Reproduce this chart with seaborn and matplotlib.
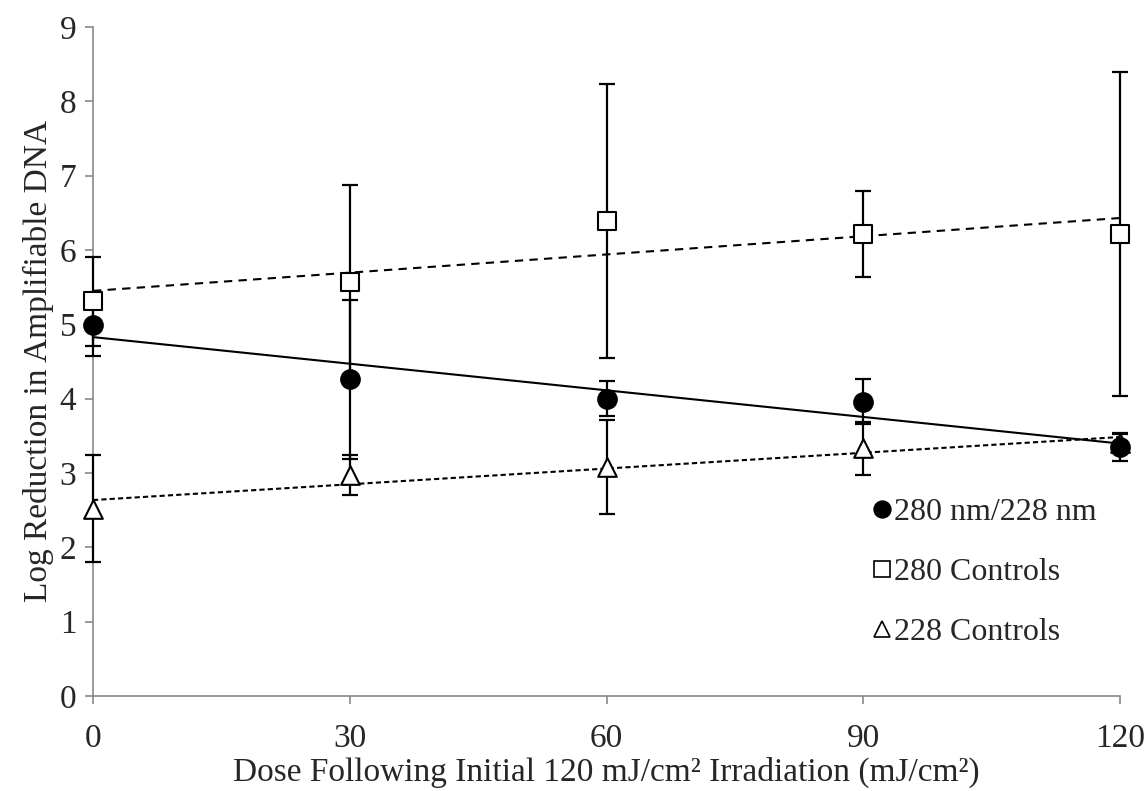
import numpy as np
import pandas as pd
import matplotlib
matplotlib.use('Agg')
import matplotlib.pyplot as plt
import seaborn as sns
from matplotlib.lines import Line2D

# Data
doses = [0, 30, 60, 90, 120]
mixed_mean = [4.99, 4.26, 4.00, 3.96, 3.35]
mixed_err = [0.41, 1.07, 0.24, 0.30, 0.19]
ctrl280_mean = [5.31, 5.57, 6.39, 6.22, 6.21]
ctrl280_err = [0.60, 1.30, 1.84, 0.58, 2.18]
ctrl228_mean = [2.52, 2.97, 3.08, 3.33, 3.40]
ctrl228_err = [0.72, 0.27, 0.63, 0.36, 0.12]
series_names = ['280 nm/228 nm', '280 Controls', '228 Controls']

sns.set_theme(style='white')
plt.rcParams['font.family'] = ['Liberation Serif', 'DejaVu Serif']

df = pd.DataFrame({
    'dose': doses * 3,
    'reduction': mixed_mean + ctrl280_mean + ctrl228_mean,
    'err': mixed_err + ctrl280_err + ctrl228_err,
    'series': np.repeat(series_names, len(doses)),
})

fig = plt.figure(figsize=(11.47, 7.91), dpi=100)
ax = fig.add_axes([0.0811, 0.1201, 0.8954, 0.8458])

markers = {'280 nm/228 nm': 'o', '280 Controls': 's', '228 Controls': '^'}
faces = {'280 nm/228 nm': 'black', '280 Controls': 'white', '228 Controls': 'white'}
trend_styles = {'280 nm/228 nm': '-', '280 Controls': (0, (4, 3)), '228 Controls': (0, (2.5, 1.5))}

# trend lines (linear fits)
for name in series_names:
    sub = df[df['series'] == name]
    sns.regplot(data=sub, x='dose', y='reduction', ax=ax, scatter=False, ci=None,
                line_kws=dict(color='black', lw=1.5, ls=trend_styles[name], zorder=2))

# error bars
for name in series_names:
    sub = df[df['series'] == name]
    ax.errorbar(sub['dose'], sub['reduction'], yerr=sub['err'], fmt='none',
                ecolor='black', elinewidth=1.6, capsize=6, capthick=1.6,
                zorder=3, clip_on=False)

# markers (circles last so they sit on top)
for name in ['228 Controls', '280 Controls', '280 nm/228 nm']:
    sub = df[df['series'] == name]
    sns.scatterplot(data=sub, x='dose', y='reduction', ax=ax, marker=markers[name],
                    s=180, color=faces[name], edgecolor='black', linewidth=1.5,
                    zorder=4, clip_on=False, legend=False)

ax.set_xlim(0, 120)
ax.set_ylim(0, 9)
ax.set_xticks(doses)
ax.set_yticks(range(0, 10))
sns.despine(ax=ax)
for sp in ['left', 'bottom']:
    ax.spines[sp].set_color('#898989')
    ax.spines[sp].set_linewidth(1.2)
ax.tick_params(axis='both', which='major', direction='out', length=6, width=1.2,
               color='#898989', labelsize=24, pad=6,
               left=True, bottom=True)
ax.tick_params(axis='x', pad=14)

ax.set_xlabel('Dose Following Initial 120 mJ/cm² Irradiation (mJ/cm²)', fontsize=24, labelpad=2)
ax.set_ylabel('Log Reduction in Amplifiable DNA', fontsize=24, labelpad=4)

handles = [Line2D([], [], ls='none', marker=markers[n], markersize=12,
                  markerfacecolor=faces[n], markeredgecolor='black', markeredgewidth=1.2)
           for n in series_names]
ax.legend(handles, series_names, loc='upper left', bbox_to_anchor=(0.746, 0.315),
          frameon=False, fontsize=23, handlelength=0.6, handletextpad=0.1,
          labelspacing=0.95, borderaxespad=0)

fig.savefig('out.png', dpi=100)
